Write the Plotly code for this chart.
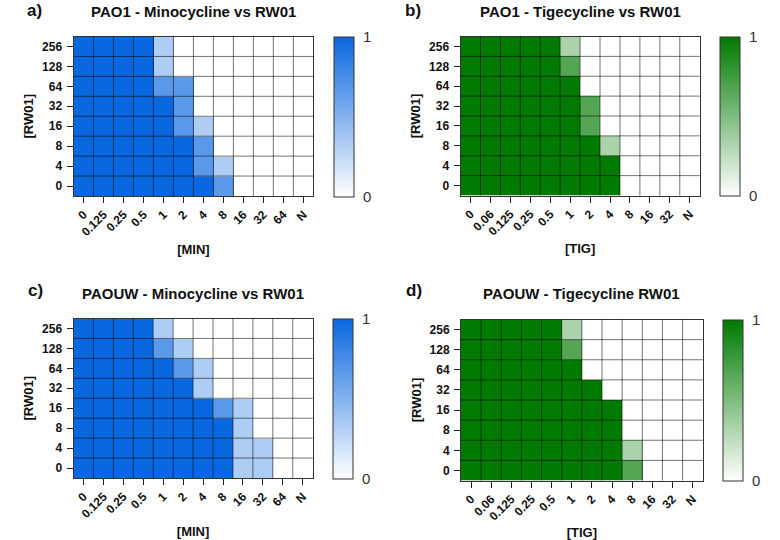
import plotly.graph_objects as go

W, H = 780, 540
FONT = "Liberation Sans"
BLUE = "#0967E0"
GREEN = "#007A00"
GRID = "rgba(0,0,0,0.55)"

rw01 = ["0", "4", "8", "16", "32", "64", "128", "256"]
min_conc = ["0", "0.125", "0.25", "0.5", "1", "2", "4", "8", "16", "32", "64", "N"]
tig_conc = ["0", "0.06", "0.125", "0.25", "0.5", "1", "2", "4", "8", "16", "32", "N"]

# rows listed from [RW01]=0 up to 256
pao1_min = [
    [1, 1, 1, 1, 1, 1, 1, .67, 0, 0, 0, 0],
    [1, 1, 1, 1, 1, 1, .67, .33, 0, 0, 0, 0],
    [1, 1, 1, 1, 1, 1, .67, 0, 0, 0, 0, 0],
    [1, 1, 1, 1, 1, .67, .33, 0, 0, 0, 0, 0],
    [1, 1, 1, 1, 1, .67, 0, 0, 0, 0, 0, 0],
    [1, 1, 1, 1, .67, .67, 0, 0, 0, 0, 0, 0],
    [1, 1, 1, 1, .33, 0, 0, 0, 0, 0, 0, 0],
    [1, 1, 1, 1, .33, 0, 0, 0, 0, 0, 0, 0],
]
pao1_tig = [
    [1, 1, 1, 1, 1, 1, 1, 1, 0, 0, 0, 0],
    [1, 1, 1, 1, 1, 1, 1, 1, 0, 0, 0, 0],
    [1, 1, 1, 1, 1, 1, 1, .33, 0, 0, 0, 0],
    [1, 1, 1, 1, 1, 1, .67, 0, 0, 0, 0, 0],
    [1, 1, 1, 1, 1, 1, .67, 0, 0, 0, 0, 0],
    [1, 1, 1, 1, 1, 1, 0, 0, 0, 0, 0, 0],
    [1, 1, 1, 1, 1, .67, 0, 0, 0, 0, 0, 0],
    [1, 1, 1, 1, 1, .33, 0, 0, 0, 0, 0, 0],
]
paouw_min = [
    [1, 1, 1, 1, 1, 1, 1, 1, .33, .33, 0, 0],
    [1, 1, 1, 1, 1, 1, 1, 1, .33, .33, 0, 0],
    [1, 1, 1, 1, 1, 1, 1, 1, .33, 0, 0, 0],
    [1, 1, 1, 1, 1, 1, 1, .67, .33, 0, 0, 0],
    [1, 1, 1, 1, 1, 1, .33, 0, 0, 0, 0, 0],
    [1, 1, 1, 1, 1, .67, .33, 0, 0, 0, 0, 0],
    [1, 1, 1, 1, .67, .33, 0, 0, 0, 0, 0, 0],
    [1, 1, 1, 1, .33, 0, 0, 0, 0, 0, 0, 0],
]
paouw_tig = [
    [1, 1, 1, 1, 1, 1, 1, 1, .67, 0, 0, 0],
    [1, 1, 1, 1, 1, 1, 1, 1, .33, 0, 0, 0],
    [1, 1, 1, 1, 1, 1, 1, 1, 0, 0, 0, 0],
    [1, 1, 1, 1, 1, 1, 1, 1, 0, 0, 0, 0],
    [1, 1, 1, 1, 1, 1, 1, 0, 0, 0, 0, 0],
    [1, 1, 1, 1, 1, 1, 0, 0, 0, 0, 0, 0],
    [1, 1, 1, 1, 1, .67, 0, 0, 0, 0, 0, 0],
    [1, 1, 1, 1, 1, .33, 0, 0, 0, 0, 0, 0],
]

panels = [
    dict(z=pao1_min, x=min_conc, c=BLUE, letter="a)", title="PAO1 - Minocycline vs RW01", xt="[MIN]",
         box=(73.5, 313.3, 36.5, 196), cb=(333.5, 353.5), lx=34, ly=10.5, tx=193, ty=11),
    dict(z=pao1_tig, x=tig_conc, c=GREEN, letter="b)", title="PAO1 - Tigecycline vs RW01", xt="[TIG]",
         box=(460.5, 699.7, 36.5, 195.5), cb=(719.5, 739.7), lx=413, ly=10.5, tx=580, ty=11),
    dict(z=paouw_min, x=min_conc, c=BLUE, letter="c)", title="PAOUW - Minocycline vs RW01", xt="[MIN]",
         box=(73.5, 312.7, 318.5, 478), cb=(333, 352.7), lx=35, ly=290, tx=193, ty=293),
    dict(z=paouw_tig, x=tig_conc, c=GREEN, letter="d)", title="PAOUW - Tigecycline RW01", xt="[TIG]",
         box=(461, 702.7, 319.5, 480.5), cb=(722.5, 742.7), lx=414, ly=290, tx=581, ty=293),
]

fig = go.Figure()
annotations = []
shapes = []
layout = {}
for i, p in enumerate(panels, start=1):
    x0, x1, y0, y1 = p["box"]
    s = "" if i == 1 else str(i)
    fig.add_trace(go.Heatmap(
        z=p["z"], x=p["x"], y=rw01, xaxis=f"x{s}", yaxis=f"y{s}",
        zmin=0, zmax=1,
        colorscale=[[0, "#FFFFFF"], [1, p["c"]]],
        colorbar=dict(
            x=p["cb"][0] / W, xanchor="left", xpad=0,
            y=1 - y0 / H, yanchor="top", ypad=0,
            thickness=p["cb"][1] - p["cb"][0], thicknessmode="pixels",
            len=y1 - y0, lenmode="pixels",
            outlinecolor="#333333", outlinewidth=1,
            tickvals=[0, 1], ticktext=["0", "1"], ticks="outside", ticklen=6,
            tickcolor="rgba(0,0,0,0)",
            tickfont=dict(family=FONT, size=15, color="#333333"),
        ),
    ))
    # cell borders at the boundaries between categories
    for k in range(1, len(p["x"])):
        shapes.append(dict(type="line", xref=f"x{s}", yref=f"y{s} domain",
                           x0=k - 0.5, x1=k - 0.5, y0=0, y1=1,
                           line=dict(color=GRID, width=1), layer="above"))
    for k in range(1, len(rw01)):
        shapes.append(dict(type="line", xref=f"x{s} domain", yref=f"y{s}",
                           x0=0, x1=1, y0=k - 0.5, y1=k - 0.5,
                           line=dict(color=GRID, width=1), layer="above"))
    axis_common = dict(
        type="category", showline=True, mirror=True, linecolor="#333333", linewidth=1,
        ticks="outside", ticklen=6, tickwidth=1, tickcolor="#222222", showgrid=False, zeroline=False,
        tickfont=dict(family=FONT, size=12, color="#111111", weight="bold"),
    )
    layout[f"xaxis{s}"] = dict(
        axis_common, domain=[x0 / W, x1 / W], anchor=f"y{s}", tickangle=-45, tickmode="linear",
        title=dict(text=p["xt"], standoff=6, font=dict(family=FONT, size=13, color="#111111", weight="bold")),
    )
    layout[f"yaxis{s}"] = dict(
        axis_common, domain=[1 - y1 / H, 1 - y0 / H], anchor=f"x{s}", tickmode="linear", ticklabelstandoff=2,
        title=dict(text="[RW01]", standoff=5, font=dict(family=FONT, size=13, color="#111111", weight="bold")),
    )
    annotations.append(dict(
        text=p["title"], xref="paper", yref="paper", x=p["tx"] / W, y=1 - p["ty"] / H,
        xanchor="center", yanchor="middle", showarrow=False,
        font=dict(family=FONT, size=15, color="#111111", weight="bold"),
    ))
    annotations.append(dict(
        text=p["letter"], xref="paper", yref="paper", x=p["lx"] / W, y=1 - p["ly"] / H,
        xanchor="center", yanchor="middle", showarrow=False,
        font=dict(family=FONT, size=17, color="#111111", weight="bold"),
    ))

fig.update_layout(
    width=W, height=H, margin=dict(l=0, r=0, t=0, b=0), autosize=False,
    paper_bgcolor="white", plot_bgcolor="white", annotations=annotations, shapes=shapes, **layout,
)
fig.write_html("out.html", post_script="document.body.style.margin='0';", config={"displayModeBar": False})
